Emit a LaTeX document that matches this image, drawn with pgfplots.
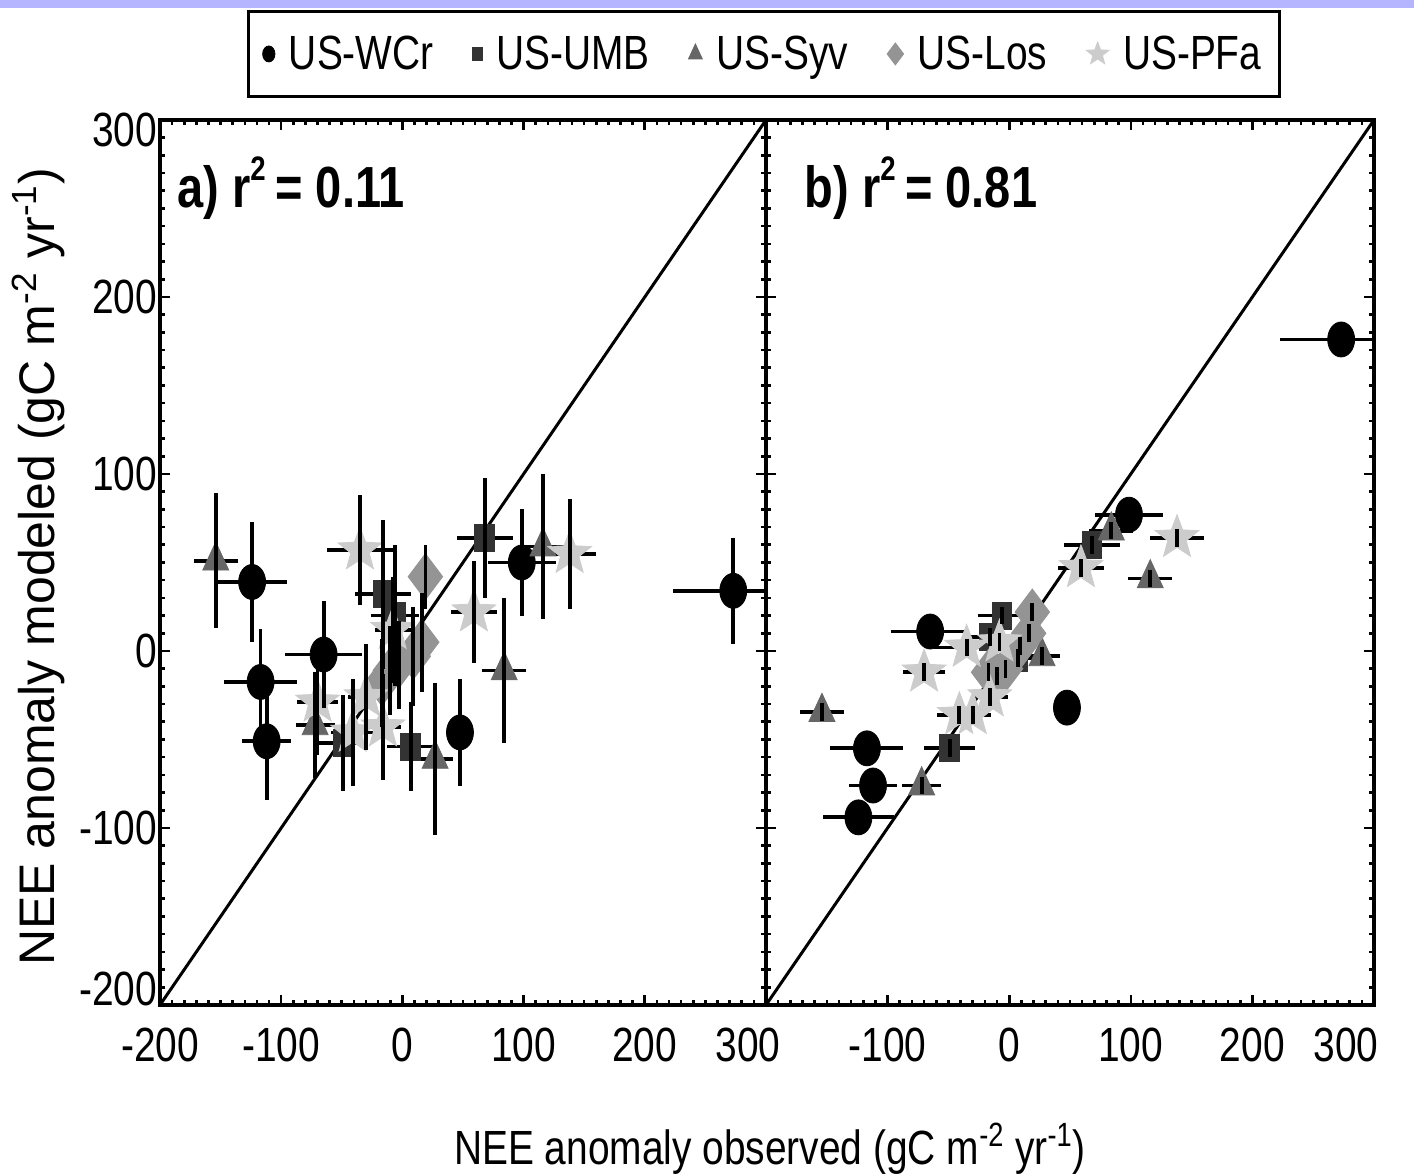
\documentclass[border=0pt]{standalone}
\usepackage{pgfplots}
\pgfplotsset{compat=1.18}
\usepackage{pgfplotstable}
\usepackage{fontspec}
\setmainfont{Liberation Sans}[FakeStretch=0.81]
\newfontfamily\widefont{Liberation Sans}

\definecolor{cUMB}{gray}{0.2}
\definecolor{cSyv}{gray}{0.4}
\definecolor{cLos}{gray}{0.58}
\definecolor{cPFa}{gray}{0.8}
\definecolor{slide}{RGB}{180,180,255}

\pgfdeclareplotmark{fstar}{%
  \pgfpathmoveto{\pgfpointpolar{90}{\pgfplotmarksize}}%
  \pgfpathlineto{\pgfpointpolar{126}{0.42\pgfplotmarksize}}%
  \pgfpathlineto{\pgfpointpolar{162}{\pgfplotmarksize}}%
  \pgfpathlineto{\pgfpointpolar{198}{0.42\pgfplotmarksize}}%
  \pgfpathlineto{\pgfpointpolar{234}{\pgfplotmarksize}}%
  \pgfpathlineto{\pgfpointpolar{270}{0.42\pgfplotmarksize}}%
  \pgfpathlineto{\pgfpointpolar{306}{\pgfplotmarksize}}%
  \pgfpathlineto{\pgfpointpolar{342}{0.42\pgfplotmarksize}}%
  \pgfpathlineto{\pgfpointpolar{18}{\pgfplotmarksize}}%
  \pgfpathlineto{\pgfpointpolar{54}{0.42\pgfplotmarksize}}%
  \pgfpathclose
  \pgfusepathqfillstroke}

% x: observed anomaly, ex: its error; yA/eyA: panel a; yB/eyB: panel b
\pgfplotstableread{
x ex yA eyA yB eyB
-124 29 39 34 -94 5
-117 30 -17.5 30 -55 5
-112 20 -51 33 -76 5
-65 32 -2 30 11 5
47.5 4 -46 30 -32 5
98.5 28 50 30 77 5
273 50 34 30 176 5
}\WCr
\pgfplotstableread{
x ex yA eyA yB eyB
68 23 64 34 60 5
-16 23 32 42 8 5
-6 20 20 40 20 5
-49 21 -52 27 -55 5
7 20 -54 25 -4 5
}\UMB
\pgfplotstableread{
x ex yA eyA yB eyB
-154 18 51 38 -34.5 5
116 18 59 41 41 5
84 18 -11 41 68 5
27 15 -61 43 -3 5
-72 16 -42 30 -76 5
}\Syv
\pgfplotstableread{
x ex yA eyA yB eyB
19 4 42 18 22 5
16 4 5 28 10 5
9 4 -3 28 3 5
-3 4 -8 25 -10 5
-10 4 -11 25 -14 5
-17 4 -18 25 -12 5
}\Los
\pgfplotstableread{
x ex yA eyA yB eyB
-70 17 -29 30 -12 5
-41 18 -46 30 -36 5
-35 27 57 31 2 5
-30 15 -26 30 -36 5
-16 15 -43 30 -26 5
-8 15 12 30 5 5
59 19 22 29 47 5
138 22 55 31 64 5
}\PFa

\pgfplotsset{
  common/.style={
    scale only axis, height=442.5pt,
    xmin=-200, xmax=300, ymin=-200, ymax=300,
    xtick={-200,-100,...,300}, ytick={-200,-100,...,300},
    minor tick num=9, tick align=inside,
    major tick length=5pt, minor tick length=2.5pt,
    axis line style={line width=1.6pt},
    tick style={black, line width=1.3pt},
    tick label style={font=\fontsize{24}{28}\selectfont},
    xticklabel style={yshift=-8pt},
    yticklabel style={xshift=2pt},
    clip marker paths=true,
  },
  sWCr/.style={only marks, mark=*, black, mark size=8.75pt, mark options={xscale=0.77}},
  sUMB/.style={only marks, mark=square*, cUMB, mark size=6.75pt, mark options={xscale=0.74}},
  sSyv/.style={only marks, mark=triangle*, cSyv, mark size=7.5pt, mark options={yscale=1.25}},
  sLos/.style={only marks, mark=diamond*, cLos, mark size=11.5pt},
  sPFa/.style={only marks, mark=fstar, cPFa, mark size=11.5pt},
  errH/.style={forget plot, draw=none, mark=none, line width=1.9pt,
    error bars/.cd, x dir=both, x explicit, y dir=none,
    error mark=none, error bar style={draw=black, solid, line width=1.9pt}},
  errV/.style={forget plot, draw=none, mark=none, line width=1.9pt,
    error bars/.cd, y dir=both, y explicit, x dir=none,
    error mark=none, error bar style={draw=black, solid, line width=1.9pt}},
}

\newcommand{\rsq}{r\raisebox{0.85ex}{\fontsize{17}{17}\selectfont 2}\,}

\begin{document}
\begin{tikzpicture}
\useasboundingbox (-80pt,-85.5pt) rectangle (627pt,502.5pt);
\fill[slide] (-80pt,498.5pt) rectangle (627pt,502.5pt);

\begin{axis}[common, width=303pt, at={(0pt,0pt)},
  xticklabels={-200,-100,0,100,200,\makebox[0pt]{\hspace*{-18pt}300}},
  yticklabels={\raisebox{8pt}[\height][\depth]{-200},-100,0,100,200,\raisebox{-5pt}[\height][\depth]{300}},
  legend columns=5,
  legend image code/.code={\draw[#1] plot coordinates {(0pt,0pt)};},
  legend style={at={(0.9967,1.0746)}, anchor=center, draw=black, line width=1.6pt,
    font=\fontsize{24}{28}\selectfont, inner xsep=7pt, inner ysep=10pt,
    nodes={inner xsep=2pt},
    /tikz/every odd column/.append style={column sep=5pt},
    /tikz/every even column/.append style={column sep=17.5pt}},
]
\addplot[black, line width=1.5pt, forget plot] coordinates {(-200,-200) (300,300)};
\addplot[errH] table[x=x,y=yA,x error=ex] \WCr;
\addplot[errH] table[x=x,y=yA,x error=ex] \UMB;
\addplot[errH] table[x=x,y=yA,x error=ex] \Syv;
\addplot[errH] table[x=x,y=yA,x error=ex] \Los;
\addplot[errH] table[x=x,y=yA,x error=ex] \PFa;
\addplot[sWCr, forget plot] table[x=x,y=yA] \WCr;
\addplot[sUMB, forget plot] table[x=x,y=yA] \UMB;
\addplot[sSyv, forget plot] table[x=x,y=yA] \Syv;
\addplot[sLos, forget plot] table[x=x,y=yA] \Los;
\addplot[sPFa, forget plot] table[x=x,y=yA] \PFa;
\addplot[errV] table[x=x,y=yA,y error=eyA] \WCr;
\addplot[errV] table[x=x,y=yA,y error=eyA] \UMB;
\addplot[errV] table[x=x,y=yA,y error=eyA] \Syv;
\addplot[errV] table[x=x,y=yA,y error=eyA] \Los;
\addplot[errV] table[x=x,y=yA,y error=eyA] \PFa;
\addlegendimage{sWCr, mark size=4pt, line width=0.4pt}
\addlegendentry{US-WCr}
\addlegendimage{sUMB, mark size=3.2pt, line width=0.4pt}
\addlegendentry{US-UMB}
\addlegendimage{sSyv, mark size=4pt, line width=0.4pt}
\addlegendentry{US-Syv}
\addlegendimage{sLos, mark size=5.5pt, line width=0.4pt}
\addlegendentry{US-Los}
\addlegendimage{sPFa, mark size=6pt, line width=0.4pt}
\addlegendentry{US-PFa}
\node[anchor=west, font=\bfseries\fontsize{29}{33}\selectfont] at (axis description cs:0.017,0.923) {a) \rsq= 0.11};
\end{axis}

\begin{axis}[common, width=304pt, at={(303pt,0pt)},
  xticklabels={{},-100,0,100,200,\makebox[0pt]{\hspace*{-28pt}300}},
  yticklabels={},
]
\addplot[black, line width=1.5pt, forget plot] coordinates {(-200,-200) (300,300)};
\addplot[errH] table[x=x,y=yB,x error=ex] \WCr;
\addplot[errH] table[x=x,y=yB,x error=ex] \UMB;
\addplot[errH] table[x=x,y=yB,x error=ex] \Syv;
\addplot[errH] table[x=x,y=yB,x error=ex] \Los;
\addplot[errH] table[x=x,y=yB,x error=ex] \PFa;
\addplot[sWCr] table[x=x,y=yB] \WCr;
\addplot[sUMB] table[x=x,y=yB] \UMB;
\addplot[sSyv] table[x=x,y=yB] \Syv;
\addplot[sLos] table[x=x,y=yB] \Los;
\addplot[sPFa] table[x=x,y=yB] \PFa;
\addplot[errV] table[x=x,y=yB,y error=eyB] \WCr;
\addplot[errV] table[x=x,y=yB,y error=eyB] \UMB;
\addplot[errV] table[x=x,y=yB,y error=eyB] \Syv;
\addplot[errV] table[x=x,y=yB,y error=eyB] \Los;
\addplot[errV] table[x=x,y=yB,y error=eyB] \PFa;
\node[anchor=west, font=\bfseries\fontsize{29}{33}\selectfont] at (axis description cs:0.052,0.923) {b) \rsq= 0.81};
\end{axis}

\node[anchor=base, font=\fontsize{24}{28}\selectfont] at (305pt,-80pt) {NEE anomaly observed (gC m\textsuperscript{-2} yr\textsuperscript{-1})};
\node[rotate=90, font=\widefont\fontsize{25}{30}\selectfont] at (-61pt,219pt) {NEE anomaly modeled (gC m\textsuperscript{-2} yr\textsuperscript{-1})};
\end{tikzpicture}
\end{document}
